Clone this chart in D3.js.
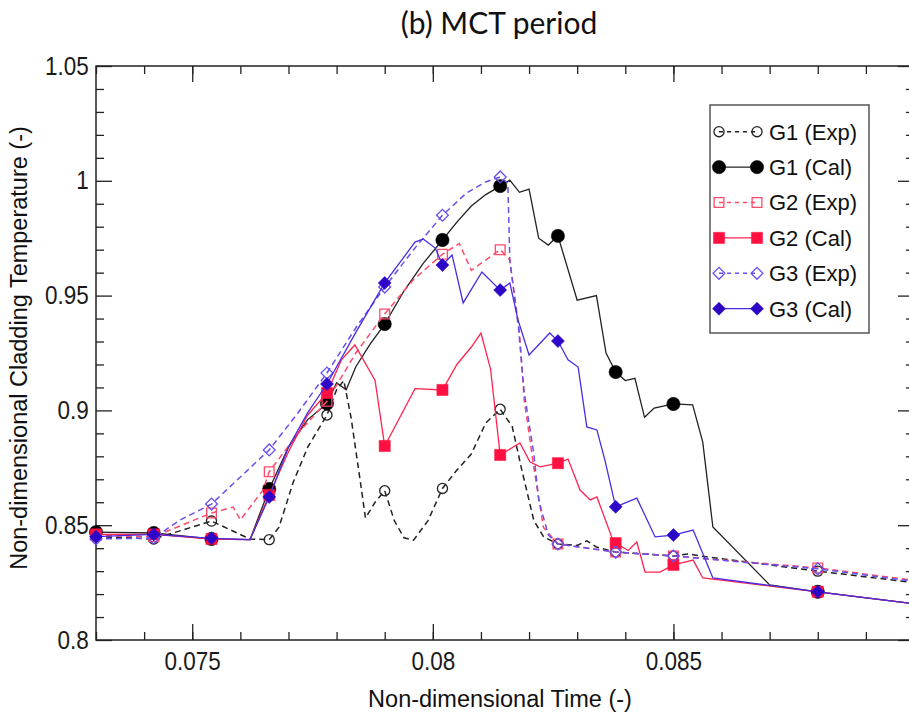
<!DOCTYPE html>
<html>
<head>
<meta charset="utf-8">
<script src="https://cdn.jsdelivr.net/npm/d3@7"></script>
<style>
  body { margin: 0; background: #fff; }
  svg { display: block; font-family: "Liberation Sans", Arial, sans-serif; }
</style>
</head>
<body>
<svg id="plot"></svg>
<script>
// Axis ticks
const xMajor = [0.075, 0.08, 0.085, 0.09];
const xLabels = ["0.075", "0.08", "0.085", ""];
const xMinor = [0.073, 0.074, 0.075, 0.076, 0.077, 0.078, 0.079, 0.080, 0.081, 0.082,
                0.083, 0.084, 0.085, 0.086, 0.087, 0.088, 0.089, 0.090];
const yMajor = [0.8, 0.85, 0.9, 0.95, 1.0, 1.05];
const yLabels = ["0.8", "0.85", "0.9", "0.95", "1", "1.05"];
const yMinor = [0.81, 0.82, 0.83, 0.84, 0.86, 0.87, 0.88, 0.89, 0.91, 0.92, 0.93, 0.94,
                0.96, 0.97, 0.98, 0.99, 1.01, 1.02, 1.03, 1.04];

// Marker times (shared by all series)
const markerT = [0.0730, 0.0742, 0.0754, 0.0766, 0.0778, 0.0790, 0.0802, 0.0814,
                 0.0826, 0.0838, 0.0850, 0.0880];

// Marker values
const g1ExpMarks = [0.8450, 0.8440, 0.8518, 0.8437, 0.8980, 0.8650, 0.8660, 0.9005, 0.8418, 0.8383, 0.8366, 0.8300];
const g1CalMarks = [0.8470, 0.8466, 0.8440, 0.8658, 0.9030, 0.9376, 0.9742, 0.9977, 0.9760, 0.9167, 0.9028, 0.8210];
const g2ExpMarks = [0.8455, 0.8450, 0.8553, 0.8733, 0.9040, 0.9420, 0.9680, 0.9700, 0.8418, 0.8383, 0.8366, 0.8314];
const g2CalMarks = [0.8460, 0.8460, 0.8440, 0.8632, 0.9076, 0.8845, 0.9089, 0.8806, 0.8770, 0.8422, 0.8327, 0.8210];
const g3ExpMarks = [0.8440, 0.8444, 0.8592, 0.8828, 0.9163, 0.9537, 0.9850, 1.0017, 0.8418, 0.8383, 0.8366, 0.8310];
const g3CalMarks = [0.8450, 0.8460, 0.8443, 0.8623, 0.9115, 0.9555, 0.9633, 0.9524, 0.9302, 0.8580, 0.8457, 0.8210];

// Full curves [time, temperature]
const g1ExpLine = [[0.0730,0.8450],[0.0742,0.8440],[0.0754,0.8518],[0.0762,0.8440],[0.0766,0.8437],
  [0.0768,0.8490],[0.0771,0.8688],[0.0774,0.8840],[0.0778,0.8980],[0.0780,0.9090],[0.07815,0.9130],
  [0.0783,0.8970],[0.0785,0.8680],[0.0786,0.8531],[0.0788,0.8600],[0.0790,0.8650],[0.0792,0.8520],
  [0.0794,0.8445],[0.0796,0.8435],[0.0799,0.8520],[0.0802,0.8660],[0.0805,0.8740],[0.0808,0.8810],
  [0.0811,0.8945],[0.0814,0.9005],[0.08165,0.8930],[0.08185,0.8740],[0.0821,0.8520],[0.0823,0.8450],
  [0.0826,0.8418],[0.0830,0.8412],[0.0832,0.8432],[0.0834,0.8405],[0.0838,0.8383],[0.0850,0.8366],
  [0.0853,0.8375],[0.0856,0.8365],[0.0880,0.8300],[0.0900,0.8250]];
const g1CalLine = [[0.0730,0.8470],[0.0742,0.8466],[0.0754,0.8440],[0.0762,0.8437],[0.0766,0.8658],
  [0.0770,0.8840],[0.0774,0.8960],[0.0778,0.9030],[0.0780,0.9120],[0.0782,0.9090],[0.0784,0.9190],
  [0.0787,0.9290],[0.0790,0.9376],[0.0794,0.9520],[0.0798,0.9640],[0.0802,0.9742],[0.0805,0.9820],
  [0.0808,0.9890],[0.0811,0.9940],[0.0814,0.9977],[0.0816,1.0003],[0.0818,0.9950],[0.0820,0.9964],
  [0.0822,0.9750],[0.0824,0.9720],[0.0826,0.9760],[0.0830,0.9480],[0.0834,0.9500],[0.0836,0.9250],
  [0.0838,0.9167],[0.0840,0.9130],[0.0842,0.9140],[0.0844,0.8970],[0.0846,0.9010],[0.0850,0.9028],
  [0.0854,0.9024],[0.08561,0.8862],[0.08582,0.8492],[0.0870,0.8240],[0.0880,0.8210],[0.0900,0.8158]];
const g2ExpLine = [[0.0730,0.8455],[0.0742,0.8450],[0.0754,0.8553],[0.07585,0.8579],[0.0760,0.8523],
  [0.07647,0.8653],[0.0766,0.8733],[0.0772,0.8900],[0.0778,0.9040],[0.0784,0.9250],[0.0790,0.9420],
  [0.0796,0.9570],[0.0802,0.9680],[0.08055,0.9727],[0.0808,0.9610],[0.0814,0.9700],[0.0816,0.9655],
  [0.0818,0.9340],[0.0819,0.9045],[0.0821,0.8750],[0.0823,0.8490],[0.0826,0.8418],[0.0838,0.8383],
  [0.0850,0.8366],[0.0880,0.8314],[0.0900,0.8260]];
const g2CalLine = [[0.0730,0.8460],[0.0742,0.8460],[0.0754,0.8440],[0.0762,0.8437],[0.0766,0.8632],
  [0.0770,0.8820],[0.0774,0.8980],[0.0778,0.9076],[0.0781,0.9220],[0.07838,0.9285],[0.0788,0.9130],
  [0.0790,0.8845],[0.07963,0.9095],[0.0802,0.9089],[0.0805,0.9200],[0.0808,0.9276],[0.0810,0.9337],
  [0.0812,0.9180],[0.0814,0.8806],[0.08181,0.8858],[0.08202,0.8775],[0.08223,0.8754],[0.0826,0.8770],
  [0.08281,0.8788],[0.08306,0.8653],[0.08327,0.8610],[0.08341,0.8623],[0.08374,0.8436],[0.0838,0.8422],
  [0.08406,0.8390],[0.08424,0.8427],[0.08441,0.8296],[0.08472,0.8296],[0.0850,0.8327],[0.08541,0.8348],
  [0.08561,0.8270],[0.0880,0.8210],[0.0900,0.8158]];
const g3ExpLine = [[0.0730,0.8440],[0.0742,0.8444],[0.07475,0.8523],[0.0754,0.8592],[0.0760,0.8710],
  [0.0766,0.8828],[0.0772,0.8990],[0.0778,0.9163],[0.0784,0.9360],[0.0790,0.9537],[0.0796,0.9700],
  [0.0802,0.9850],[0.0807,0.9947],[0.0811,0.9995],[0.0814,1.0017],[0.08156,0.9990],[0.0816,0.9655],
  [0.08178,0.9360],[0.0819,0.9076],[0.0821,0.8810],[0.0822,0.8610],[0.0824,0.8457],[0.0826,0.8418],
  [0.0838,0.8383],[0.0850,0.8366],[0.0880,0.8310],[0.0900,0.8255]];
const g3CalLine = [[0.0730,0.8450],[0.0742,0.8460],[0.0754,0.8443],[0.0762,0.8437],[0.0766,0.8623],
  [0.0770,0.8840],[0.0774,0.8990],[0.0778,0.9115],[0.0784,0.9340],[0.0790,0.9555],[0.07963,0.9733],
  [0.0798,0.9747],[0.08005,0.9707],[0.0802,0.9633],[0.0804,0.9677],[0.08063,0.9468],[0.08102,0.9603],
  [0.0814,0.9524],[0.0816,0.9555],[0.08177,0.9394],[0.0820,0.9241],[0.08243,0.9337],[0.0826,0.9302],
  [0.08281,0.9220],[0.08302,0.9189],[0.0832,0.8928],[0.08341,0.8915],[0.08358,0.8780],[0.0838,0.8580],
  [0.08424,0.8618],[0.08462,0.8449],[0.0850,0.8457],[0.08541,0.8479],[0.08582,0.8270],[0.0880,0.8210],
  [0.0900,0.8158]];

const series = [
  { name: "G1 (Exp)", line: g1ExpLine, marks: g1ExpMarks, color: "#222", fill: "none", dash: "6,4", shape: "circle", size: 80 },
  { name: "G1 (Cal)", line: g1CalLine, marks: g1CalMarks, color: "#222", fill: "#000", dash: null, shape: "circle", size: 140 },
  { name: "G2 (Exp)", line: g2ExpLine, marks: g2ExpMarks, color: "#ff4a6a", fill: "none", dash: "6,4", shape: "square", size: 95 },
  { name: "G2 (Cal)", line: g2CalLine, marks: g2CalMarks, color: "#ff2450", fill: "#ff1040", dash: null, shape: "square", size: 125 },
  { name: "G3 (Exp)", line: g3ExpLine, marks: g3ExpMarks, color: "#6a4ff0", fill: "none", dash: "6,4", shape: "diamond", size: 70 },
  { name: "G3 (Cal)", line: g3CalLine, marks: g3CalMarks, color: "#4a2be2", fill: "#2d06c8", dash: null, shape: "diamond", size: 85 }
];

let margin = { top: 66, left: 96 };
let width = 818;
let height = 574;

let root = d3.select('#plot')
    .attr('width', 909)
    .attr('height', 717);

let svg = root.append('g')
    .attr('transform', `translate(${margin.left}, ${margin.top})`);

let xScale = d3.scaleLinear().domain([0.073, 0.09]).range([0, width]);
let yScale = d3.scaleLinear().domain([0.8, 1.05]).range([height, 0]);

function styleAxis(g, fontSize) {
    g.select('.domain').remove();
    g.selectAll('line').attr('stroke', '#222').attr('stroke-width', 1.3);
    g.selectAll('text')
        .attr('fill', '#1a1a1a')
        .style('font-size', fontSize + 'px')
        .style('font-family', '"Liberation Sans", Arial, sans-serif')
        .attr('transform', 'scale(0.9,1)');
}

// minor ticks
svg.append('g').attr('transform', `translate(0, ${height})`)
    .call(d3.axisBottom(xScale).tickValues(xMinor).tickSize(-8).tickFormat(''))
    .call(g => styleAxis(g, 0));
svg.append('g')
    .call(d3.axisTop(xScale).tickValues(xMinor).tickSize(-8).tickFormat(''))
    .call(g => styleAxis(g, 0));
svg.append('g')
    .call(d3.axisLeft(yScale).tickValues(yMinor).tickSize(-8).tickFormat(''))
    .call(g => styleAxis(g, 0));
svg.append('g').attr('transform', `translate(${width}, 0)`)
    .call(d3.axisRight(yScale).tickValues(yMinor).tickSize(-8).tickFormat(''))
    .call(g => styleAxis(g, 0));

// major ticks
svg.append('g').attr('transform', `translate(0, ${height})`)
    .call(d3.axisBottom(xScale).tickValues(xMajor).tickSize(-16).tickPadding(12)
        .tickFormat((d, i) => xLabels[i]))
    .call(g => styleAxis(g, 25));
svg.append('g')
    .call(d3.axisTop(xScale).tickValues(xMajor).tickSize(-16).tickFormat(''))
    .call(g => styleAxis(g, 0));
svg.append('g')
    .call(d3.axisLeft(yScale).tickValues(yMajor).tickSize(-16).tickPadding(8)
        .tickFormat((d, i) => yLabels[i]))
    .call(g => styleAxis(g, 25));
svg.append('g').attr('transform', `translate(${width}, 0)`)
    .call(d3.axisRight(yScale).tickValues(yMajor).tickSize(-16).tickFormat(''))
    .call(g => styleAxis(g, 0));

// frame
svg.append('rect')
    .attr('width', width)
    .attr('height', height)
    .attr('fill', 'none')
    .attr('stroke', '#222')
    .attr('stroke-width', 1.5);

let line = d3.line()
    .x(d => xScale(d[0]))
    .y(d => yScale(d[1]));

function symbolPath(shape, size) {
    let type = shape === 'circle' ? d3.symbolCircle : d3.symbolSquare;
    return d3.symbol().type(type).size(size)();
}

// Draw lines and markers
series.forEach(function(s) {
    svg.append('path')
        .datum(s.line)
        .attr('d', line)
        .attr('fill', 'none')
        .attr('stroke', s.color)
        .attr('stroke-width', s.dash ? 1.5 : 1.3)
        .attr('stroke-dasharray', s.dash);

    svg.selectAll(null)
        .data(markerT.map((t, i) => [t, s.marks[i]]))
        .enter()
        .append('path')
        .attr('d', symbolPath(s.shape, s.size))
        .attr('transform', d => `translate(${xScale(d[0])}, ${yScale(d[1])})` + (s.shape === 'diamond' ? ' rotate(45)' : ''))
        .attr('fill', s.fill)
        .attr('stroke', s.fill === 'none' ? s.color : s.fill)
        .attr('stroke-width', s.fill === 'none' ? 1.3 : 0.5);
});

// Title and axis labels
root.append('text')
    .attr('x', 499)
    .attr('y', 34)
    .attr('text-anchor', 'middle')
    .style('font-family', 'Lato, "Open Sans", sans-serif')
    .style('font-size', '30px')
    .attr('fill', '#111')
    .text('(b) MCT period');

root.append('text')
    .attr('x', 500)
    .attr('y', 707)
    .attr('text-anchor', 'middle')
    .style('font-size', '23.5px')
    .attr('fill', '#111')
    .text('Non-dimensional Time (-)');

root.append('text')
    .attr('transform', 'rotate(-90)')
    .attr('x', -348)
    .attr('y', 27)
    .attr('text-anchor', 'middle')
    .style('font-size', '23.5px')
    .attr('fill', '#111')
    .text('Non-dimensional Cladding Temperature (-)');

// Legend
let legendBox = root.append('g')
    .attr('transform', 'translate(710, 105)');

legendBox.append('rect')
    .attr('width', 159)
    .attr('height', 228)
    .attr('fill', '#fff')
    .attr('stroke', '#555')
    .attr('stroke-width', 1.5);

let legend = legendBox.selectAll('.legend')
    .data(series)
    .enter()
    .append('g')
    .attr('class', 'legend')
    .attr('transform', (d, i) => `translate(0, ${26.7 + i * 35.4})`);

legend.append('line')
    .attr('x1', 9)
    .attr('x2', 47)
    .attr('stroke', d => d.color)
    .attr('stroke-width', d => d.dash ? 1.5 : 1.3)
    .attr('stroke-dasharray', d => d.dash ? '4,4' : null);

[9, 47].forEach(function(px) {
    legend.append('path')
        .attr('d', d => symbolPath(d.shape, d.size))
        .attr('transform', d => `translate(${px}, 0)` + (d.shape === 'diamond' ? ' rotate(45)' : ''))
        .attr('fill', d => d.fill)
        .attr('stroke', d => d.fill === 'none' ? d.color : d.fill)
        .attr('stroke-width', d => d.fill === 'none' ? 1.3 : 0.5);
});

legend.append('text')
    .attr('x', 59)
    .attr('dy', '.36em')
    .style('font-size', '22px')
    .attr('fill', '#111')
    .text(d => d.name);
</script>
</body>
</html>
